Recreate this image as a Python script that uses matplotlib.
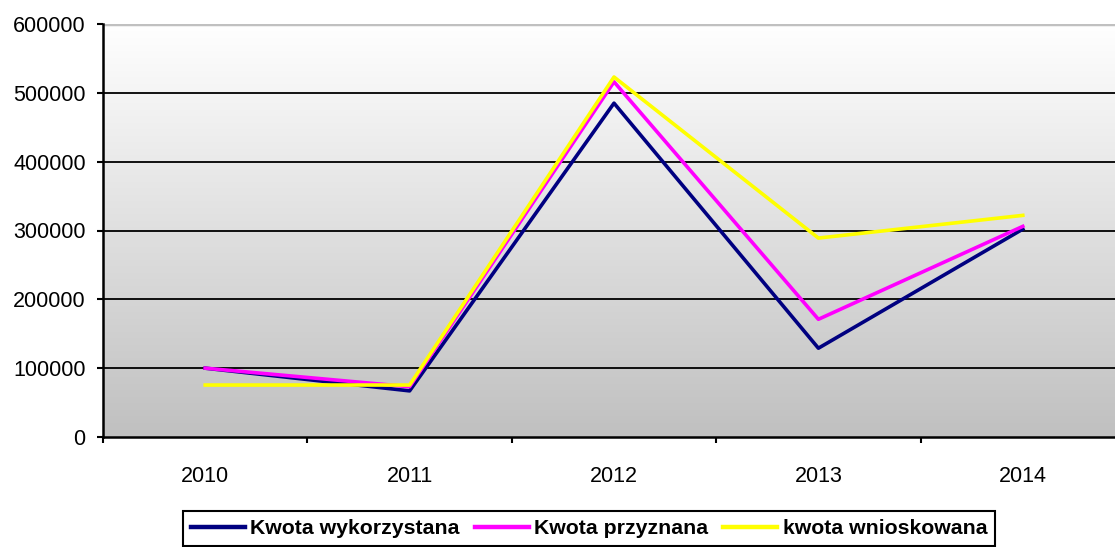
import numpy as np
from matplotlib import pyplot as plt
from matplotlib.colors import LinearSegmentedColormap

#%% Data

years = ["2010", "2011", "2012", "2013", "2014"]
kwota_wykorzystana = [100000, 67000, 485000, 129000, 302000]
kwota_przyznana = [100000, 73000, 516000, 171000, 306000]
kwota_wnioskowana = [75500, 75500, 523000, 289000, 322000]
yticks = [0, 100000, 200000, 300000, 400000, 500000, 600000]

#%% Plot

plt.rcParams['font.family'] = ['Liberation Sans', 'DejaVu Sans']

fig = plt.figure(figsize=(11.15, 5.47), dpi=100)
ax = fig.add_axes([103/1115, 1-437/547, 1022/1115, 413/547])

x = np.arange(len(years))

# gradient background (white top -> gray bottom)
cmap = LinearSegmentedColormap.from_list("bg", ["#c0c0c0", "#ffffff"])
grad = np.linspace(0, 1, 256).reshape(-1, 1)
ax.imshow(grad, extent=[0, 1, 0, 1], transform=ax.transAxes, cmap=cmap,
          origin='lower', aspect='auto', zorder=0)

for yv in yticks[1:-1]:
    ax.axhline(yv, color='black', lw=1.3, zorder=1)
ax.axhline(600000, color='#c0c0c0', lw=2.5, zorder=1)

ax.plot(x, kwota_wykorzystana, color='#000080', lw=2.6, label='Kwota wykorzystana', zorder=3)
ax.plot(x, kwota_przyznana, color='#ff00ff', lw=2.6, label='Kwota przyznana', zorder=4)
ax.plot(x, kwota_wnioskowana, color='#ffff00', lw=2.6, label='kwota wnioskowana', zorder=5)

ax.set_xlim(-0.5, 4.5)
ax.set_ylim(0, 600000)
ax.set_yticks(yticks)
ax.set_yticklabels([str(v) for v in yticks])
ax.set_xticks(x)
ax.set_xticklabels(years)
ax.set_xticks(np.arange(-0.5, 4.6, 1), minor=True)

ax.tick_params(axis='y', direction='out', length=4.5, width=1.5, pad=8, labelsize=15.5, colors='black')
ax.tick_params(axis='x', which='major', length=0, pad=21, labelsize=15.5)
ax.tick_params(axis='x', which='minor', direction='out', length=4.5, width=1.5)

for s in ['top', 'right']:
    ax.spines[s].set_visible(False)
ax.spines['left'].set_linewidth(1.8)
ax.spines['bottom'].set_linewidth(1.8)
ax.spines['left'].set_zorder(6)
ax.spines['bottom'].set_zorder(6)

leg = fig.legend(loc='upper center', bbox_to_anchor=(589/1115, 1-511/547), ncol=3,
                 frameon=True, fancybox=False, edgecolor='black', framealpha=1,
                 prop={'weight': 'bold', 'size': 15.3}, handlelength=2.55,
                 handletextpad=0.25, columnspacing=0.7, borderpad=0.38,
                 borderaxespad=0)
leg.get_frame().set_linewidth(1.5)
for line in leg.get_lines():
    line.set_linewidth(3.2)

fig.savefig("out.png", dpi=100)
